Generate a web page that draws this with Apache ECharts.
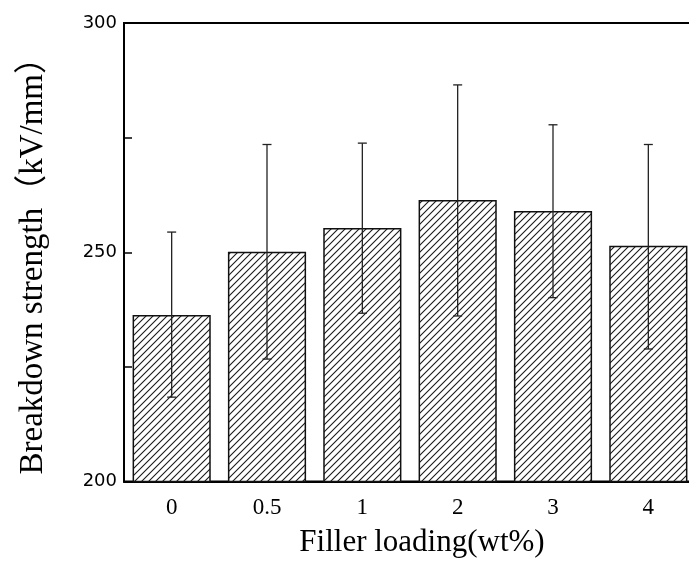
<!DOCTYPE html>
<html>
<head>
<meta charset="utf-8">
<script src="https://cdn.jsdelivr.net/npm/echarts@6/dist/echarts.min.js"></script>
<style>
  html, body { margin: 0; padding: 0; background: #fff; }
  #chart { width: 689px; height: 563px; }
</style>
</head>
<body>
<div id="chart"></div>
<script>
// Filler loading levels (wt%)
const categories = ['0', '0.5', '1', '2', '3', '4'];
// Mean breakdown strength (kV/mm)
const strength = [236.3, 250.1, 255.3, 261.4, 259.0, 251.4];
// Error bar ends (kV/mm)
const errUpper = [254.4, 273.5, 273.8, 286.5, 277.8, 273.5];
const errLower = [218.4, 226.7, 236.7, 236.1, 240.1, 228.9];
// Y axis range, labelled values and tick step
const yMin = 200, yMax = 300, yTickStep = 25;
const yLabels = [200, 250, 300];

// Diagonal hatch tile for the bars
function hatchTile(size) {
  const c = document.createElement('canvas');
  c.width = size; c.height = size;
  const ctx = c.getContext('2d');
  ctx.fillStyle = '#fff';
  ctx.fillRect(0, 0, size, size);
  ctx.strokeStyle = '#1a1a1a';
  ctx.lineWidth = 1.1;
  ctx.beginPath();
  ctx.moveTo(-1, size + 1); ctx.lineTo(size + 1, -1);
  ctx.moveTo(-1, 1); ctx.lineTo(1, -1);
  ctx.moveTo(size - 1, size + 1); ctx.lineTo(size + 1, size - 1);
  ctx.stroke();
  return c;
}

const chart = echarts.init(document.getElementById('chart'), null, { renderer: 'canvas' });

const serif = '"Liberation Serif", "Noto Sans CJK SC", serif';

chart.setOption({
  animation: false,
  backgroundColor: '#fff',
  grid: {
    left: 124, top: 23, width: 572, height: 458.5,
    containLabel: false,
    outerBoundsMode: 'none',
    show: true, borderColor: '#000', borderWidth: 2, backgroundColor: 'transparent'
  },
  xAxis: {
    type: 'category',
    data: categories,
    axisLine: { lineStyle: { color: '#000', width: 2 } },
    axisTick: { show: false },
    axisLabel: { color: '#000', fontFamily: serif, fontSize: 23, margin: 15 },
    name: 'Filler loading(wt%)',
    nameLocation: 'middle',
    nameGap: 46,
    nameTextStyle: { color: '#000', fontFamily: serif, fontSize: 31, padding: [0, 0, 0, 24] }
  },
  yAxis: {
    type: 'value',
    min: yMin, max: yMax, interval: yTickStep,
    splitLine: { show: false },
    axisLine: { show: true, lineStyle: { color: '#000', width: 2 } },
    axisTick: { show: true, inside: true, length: 8, lineStyle: { color: '#000', width: 1.5 } },
    axisLabel: {
      color: '#000', fontFamily: '"DejaVu Sans", sans-serif', fontSize: 18, margin: 7,
      formatter: v => (yLabels.indexOf(v) >= 0 ? String(v) : '')
    },
    name: 'Breakdown strength（kV/mm）',
    nameLocation: 'middle',
    nameGap: 74,
    nameTextStyle: { color: '#000', fontFamily: serif, fontSize: 33, padding: [0, 11, 0, 0] }
  },
  series: [
    {
      type: 'bar',
      data: strength,
      barCategoryGap: '18%',
      itemStyle: {
        color: { image: hatchTile(7), repeat: 'repeat' },
        borderColor: '#111',
        borderWidth: 1.5
      },
      z: 2
    },
    {
      type: 'custom',
      data: categories.map((c, i) => [i, errLower[i], errUpper[i]]),
      encode: { x: 0, y: [1, 2] },
      z: 3,
      renderItem: function (params, api) {
        const i = api.value(0);
        const lo = api.coord([i, api.value(1)]);
        const hi = api.coord([i, api.value(2)]);
        const half = 4.5;
        const style = { stroke: '#222', lineWidth: 1.3 };
        return {
          type: 'group',
          children: [
            { type: 'line', shape: { x1: hi[0], y1: hi[1], x2: lo[0], y2: lo[1] }, style: style },
            { type: 'line', shape: { x1: hi[0] - half, y1: hi[1], x2: hi[0] + half, y2: hi[1] }, style: style },
            { type: 'line', shape: { x1: lo[0] - half, y1: lo[1], x2: lo[0] + half, y2: lo[1] }, style: style }
          ]
        };
      }
    }
  ]
});
</script>
</body>
</html>
